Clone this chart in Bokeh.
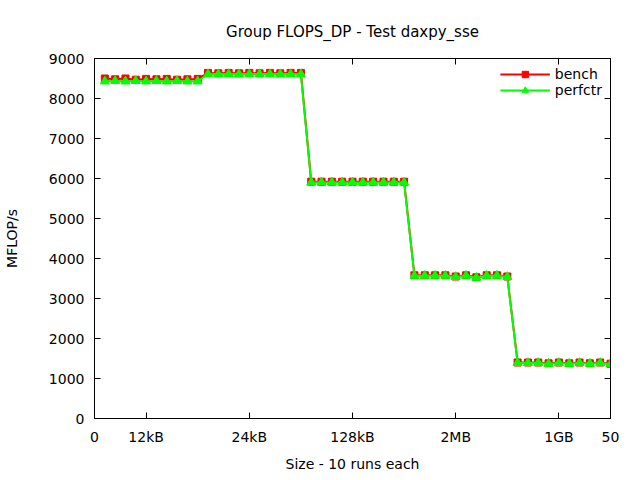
from bokeh.plotting import figure
from bokeh.models import LinearAxis, FixedTicker, Range1d, Legend, LegendItem
from bokeh.embed import file_html
from bokeh.resources import INLINE

x = list(range(1, 51))
bench = [8500, 8480, 8500, 8470, 8490, 8480, 8490, 8470, 8480, 8490,
         8640, 8630, 8640, 8630, 8640, 8630, 8640, 8630, 8640, 8640,
         5920, 5920, 5920, 5920, 5920, 5920, 5920, 5920, 5920, 5920,
         3580, 3580, 3580, 3580, 3550, 3580, 3530, 3580, 3580, 3550,
         1400, 1400, 1400, 1380, 1400, 1380, 1400, 1380, 1400, 1370]
perfctr = [8430, 8440, 8430, 8440, 8430, 8440, 8430, 8440, 8430, 8430,
           8610, 8610, 8610, 8610, 8610, 8610, 8610, 8610, 8610, 8610,
           5900, 5900, 5900, 5900, 5900, 5900, 5900, 5900, 5900, 5900,
           3570, 3570, 3570, 3570, 3540, 3570, 3520, 3570, 3570, 3540,
           1390, 1390, 1390, 1370, 1390, 1370, 1390, 1370, 1390, 1360]
xticks = [0, 5, 15, 25, 35, 45, 50]
xtick_labels = ["0", "12kB", "24kB", "128kB", "2MB", "1GB", "50"]
yticks = list(range(0, 9001, 1000))

FONT = "DejaVu Sans"
FS = "14px"

p = figure(width=640, height=480, output_backend="svg", toolbar_location=None,
           x_range=Range1d(0, 50), y_range=Range1d(0, 9000),
           min_border_left=93, min_border_right=30, min_border_top=58, min_border_bottom=62,
           title="Group FLOPS_DP - Test daxpy_sse")
p.title.align = "center"
p.title.text_font = FONT
p.title.text_font_size = "15px"
p.title.text_font_style = "normal"
p.title.text_color = "black"
p.title.standoff = 36
p.xgrid.visible = False
p.ygrid.visible = False
p.outline_line_color = "black"
p.outline_line_width = 1

for ax in p.xaxis:
    ax.ticker = FixedTicker(ticks=xticks)
    ax.major_label_overrides = {t: l for t, l in zip(xticks, xtick_labels)}
    ax.axis_label = "Size - 10 runs each"
    ax.axis_label_standoff = 8
for ax in p.yaxis:
    ax.ticker = FixedTicker(ticks=yticks)
    ax.axis_label = "MFLOP/s"
    ax.axis_label_standoff = 26
for ax in list(p.xaxis) + list(p.yaxis):
    ax.major_tick_in = 6
    ax.major_tick_out = 0
    ax.minor_tick_line_color = None
    ax.major_label_text_font = FONT
    ax.major_label_text_font_size = FS
    ax.major_label_text_color = "black"
    ax.axis_label_text_font = FONT
    ax.axis_label_text_font_size = FS
    ax.axis_label_text_font_style = "normal"
    ax.axis_label_text_color = "black"
    ax.axis_line_color = "black"
    ax.major_tick_line_color = "black"
    ax.major_label_standoff = 10

top = LinearAxis(ticker=FixedTicker(ticks=xticks),
                 major_label_overrides={t: "" for t in xticks},
                 major_tick_in=6, major_tick_out=0, minor_tick_line_color=None,
                 axis_line_color="black", major_tick_line_color="black")
right = LinearAxis(ticker=FixedTicker(ticks=yticks),
                   major_label_overrides={t: "" for t in yticks},
                   major_tick_in=6, major_tick_out=0, minor_tick_line_color=None,
                   axis_line_color="black", major_tick_line_color="black")
p.add_layout(top, "above")
p.add_layout(right, "right")

r1l = p.line(x, bench, line_color="#ff0000", line_width=2)
r1m = p.scatter(x, bench, marker="square", size=7, fill_color="#ff0000", line_color="#ff0000")
r2l = p.line(x, perfctr, line_color="#00ff00", line_width=2)
r2m = p.scatter(x, perfctr, marker="triangle", size=9, fill_color="#00ff00", line_color="#00ff00")

legend = Legend(items=[LegendItem(label="bench", renderers=[r1l, r1m]),
                       LegendItem(label="perfctr", renderers=[r2l, r2m])],
                location="top_right", border_line_color=None, background_fill_alpha=0,
                label_text_font=FONT, label_text_font_size=FS, label_text_color="black",
                glyph_width=50, spacing=0, padding=6, label_height=16, glyph_height=16,
                margin=8)
p.add_layout(legend)

open("out.html", "w").write(file_html(p, INLINE))
